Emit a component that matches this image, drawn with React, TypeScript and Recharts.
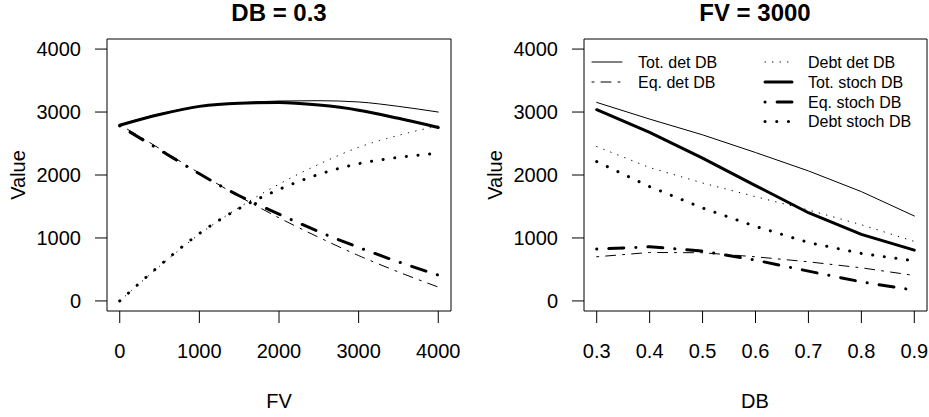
import React from "react";
import { LineChart, Line, XAxis, YAxis, ReferenceArea } from "recharts";

// ---------- data ----------
const fvValues = [0, 500, 1000, 1500, 2000, 2500, 3000, 3500, 4000];
const totDetFV = [2800, 2970, 3090, 3145, 3175, 3180, 3160, 3090, 3000];
const eqDetFV = [2800, 2420, 2030, 1660, 1320, 1010, 720, 460, 220];
const debtDetFV = [0, 550, 1060, 1485, 1855, 2170, 2440, 2630, 2780];
const totStochFV = [2790, 2960, 3090, 3140, 3150, 3110, 3030, 2900, 2755];
const eqStochFV = [2780, 2400, 2020, 1670, 1380, 1100, 850, 620, 410];
const debtStochFV = [0, 560, 1070, 1470, 1770, 2010, 2180, 2280, 2345];

const dbValues = [0.3, 0.4, 0.5, 0.6, 0.7, 0.8, 0.9];
const totDetDB = [3153, 2888, 2638, 2357, 2065, 1736, 1349];
const eqDetDB = [701, 770, 765, 701, 621, 526, 404];
const debtDetDB = [2452, 2118, 1873, 1656, 1444, 1210, 945];
const totStochDB = [3037, 2676, 2267, 1832, 1401, 1057, 807];
const eqStochDB = [823, 860, 791, 648, 473, 303, 170];
const debtStochDB = [2214, 1816, 1476, 1184, 928, 754, 637];

const yTicks = [0, 1000, 2000, 3000, 4000];
const fvTicks = [0, 1000, 2000, 3000, 4000];
const dbTicks = [0.3, 0.4, 0.5, 0.6, 0.7, 0.8, 0.9];

const seriesKeys = ["totDet", "eqDet", "debtDet", "totStoch", "eqStoch", "debtStoch"];
const seriesNames = ["Tot. det DB", "Eq. det DB", "Debt det DB", "Tot. stoch DB", "Eq. stoch DB", "Debt stoch DB"];

const titleLeft = "DB = 0.3";
const titleRight = "FV = 3000";
const xLabelLeft = "FV";
const xLabelRight = "DB";
const yLabel = "Value";

// ---------- styles ----------
const FONT = "'Liberation Sans', Arial, Helvetica, sans-serif";
const lineStyles: Record<string, { w: number; dash?: string }> = {
  totDet: { w: 1 },
  eqDet: { w: 1, dash: "2 7 10 7" },
  debtDet: { w: 1, dash: "0.5 7" },
  totStoch: { w: 3 },
  eqStoch: { w: 3, dash: "0.1 12 15 12" },
  debtStoch: { w: 3, dash: "0.1 11.6" },
};

const leftData = fvValues.map((x, i) => ({
  x,
  totDet: totDetFV[i],
  eqDet: eqDetFV[i],
  debtDet: debtDetFV[i],
  totStoch: totStochFV[i],
  eqStoch: eqStochFV[i],
  debtStoch: debtStochFV[i],
}));

const rightData = dbValues.map((x, i) => ({
  x,
  totDet: totDetDB[i],
  eqDet: eqDetDB[i],
  debtDet: debtDetDB[i],
  totStoch: totStochDB[i],
  eqStoch: eqStochDB[i],
  debtStoch: debtStochDB[i],
}));

const Y_DOMAIN: [number, number] = [-160, 4160];

type PanelProps = {
  data: any[];
  left: number;
  width: number;
  plotLeft: number;
  plotRight: number;
  xDomain: [number, number];
  xTicks: number[];
  fmt: (v: number) => string;
  curve: "linear" | "monotone";
};

function Panel({ data, left, width, plotLeft, plotRight, xDomain, xTicks, fmt, curve }: PanelProps) {
  const tickStyle = { fontSize: 20, fill: "#000", fontFamily: FONT };
  return (
    <div style={{ position: "absolute", left, top: 0, width, height: 417 }}>
      <LineChart
        width={width}
        height={417}
        data={data}
        margin={{ top: 39, right: width - (plotRight - left), bottom: 56, left: 0 }}
      >
        <XAxis
          dataKey="x"
          type="number"
          domain={xDomain}
          ticks={xTicks}
          allowDataOverflow
          interval={0}
          axisLine={false}
          tickLine={{ stroke: "#000", strokeWidth: 1 }}
          tickSize={12}
          tickMargin={21}
          height={50}
          tick={tickStyle}
          tickFormatter={fmt}
        />
        <YAxis
          type="number"
          domain={Y_DOMAIN}
          ticks={yTicks}
          allowDataOverflow
          interval={0}
          axisLine={false}
          tickLine={{ stroke: "#000", strokeWidth: 1 }}
          tickSize={12}
          tickMargin={14}
          width={plotLeft - left}
          tick={tickStyle}
        />
        <ReferenceArea
          x1={xDomain[0]}
          x2={xDomain[1]}
          y1={Y_DOMAIN[0]}
          y2={Y_DOMAIN[1]}
          fill="none"
          fillOpacity={0}
          stroke="#000"
          strokeWidth={1}
          ifOverflow="visible"
        />
        {seriesKeys.map((k) => (
          <Line
            key={k}
            dataKey={k}
            type={curve}
            stroke="#000"
            strokeWidth={lineStyles[k].w}
            strokeDasharray={lineStyles[k].dash}
            strokeLinecap="round"
            dot={false}
            activeDot={false}
            isAnimationActive={false}
          />
        ))}
      </LineChart>
    </div>
  );
}

function Overlay() {
  const legendCols = [
    { idx: [0, 1], x1: 592, x2: 622, tx: 638 },
    { idx: [2, 3, 4, 5], x1: 765, x2: 792, tx: 808 },
  ];
  const rowY = [62, 82, 102, 121.5];
  return (
    <svg
      width={929}
      height={417}
      style={{ position: "absolute", left: 0, top: 0, pointerEvents: "none" }}
      fontFamily={FONT}
    >
      <text x={279} y={21} textAnchor="middle" fontSize={24} fontWeight="bold" fill="#000">
        {titleLeft}
      </text>
      <text x={755} y={21} textAnchor="middle" fontSize={24} fontWeight="bold" fill="#000">
        {titleRight}
      </text>
      <text x={279} y={408} textAnchor="middle" fontSize={20} fill="#000">
        {xLabelLeft}
      </text>
      <text x={755} y={408} textAnchor="middle" fontSize={20} fill="#000">
        {xLabelRight}
      </text>
      <text transform="translate(25,175) rotate(-90)" textAnchor="middle" fontSize={20} fill="#000">
        {yLabel}
      </text>
      <text transform="translate(502,175) rotate(-90)" textAnchor="middle" fontSize={20} fill="#000">
        {yLabel}
      </text>
      {legendCols.map((col, ci) =>
        col.idx.map((si, ri) => {
          const k = seriesKeys[si];
          const y = rowY[ri];
          return (
            <g key={`${ci}-${ri}`}>
              <line
                x1={col.x1}
                x2={col.x2}
                y1={y}
                y2={y}
                stroke="#000"
                strokeWidth={lineStyles[k].w}
                strokeDasharray={lineStyles[k].dash}
                strokeLinecap="round"
              />
              <text x={col.tx} y={y + 5.7} fontSize={16} fill="#000">
                {seriesNames[si]}
              </text>
            </g>
          );
        })
      )}
    </svg>
  );
}

export default function App() {
  return (
    <div style={{ position: "absolute", left: 0, top: 0, width: 929, height: 417, background: "#fff" }}>
      <Panel
        data={leftData}
        left={0}
        width={465}
        plotLeft={107}
        plotRight={451}
        xDomain={[-160, 4160]}
        xTicks={fvTicks}
        fmt={(v) => String(v)}
        curve="monotone"
      />
      <Panel
        data={rightData}
        left={465}
        width={464}
        plotLeft={584}
        plotRight={927}
        xDomain={[0.276, 0.924]}
        xTicks={dbTicks}
        fmt={(v) => v.toFixed(1)}
        curve="linear"
      />
      <Overlay />
    </div>
  );
}
